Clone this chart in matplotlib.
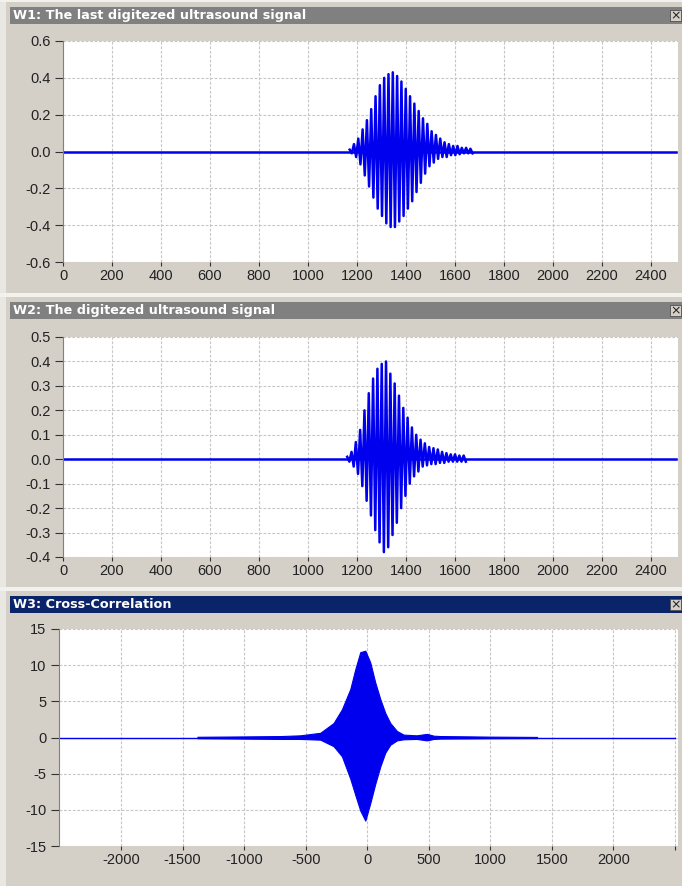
import matplotlib.pyplot as plt
from matplotlib.patches import Rectangle

plt.rcParams['font.family'] = ['Liberation Sans', 'DejaVu Sans']
plt.rcParams['axes.unicode_minus'] = False

W, H = 682, 886
BG = '#d4d0c8'
BLUE = '#0000ee'

# --- data ------------------------------------------------------------
signal_len = 2500

# W1 burst, one peak value per half cycle (positive / negative peaks)
w1_start = 1170
w1_period = 17.6
w1_pos = [0.01, 0.04, 0.07, 0.12, 0.17, 0.23, 0.30, 0.36, 0.40, 0.42,
          0.43, 0.41, 0.38, 0.34, 0.30, 0.26, 0.22, 0.18, 0.15, 0.11,
          0.09, 0.07, 0.05, 0.04, 0.03, 0.03, 0.02, 0.02, 0.015]
w1_neg = [-0.01, -0.03, -0.07, -0.13, -0.19, -0.25, -0.31, -0.35, -0.39, -0.41,
          -0.41, -0.38, -0.35, -0.31, -0.27, -0.22, -0.17, -0.12, -0.08, -0.06,
          -0.04, -0.03, -0.03, -0.02, -0.02, -0.015, -0.01, -0.01, -0.01]

# W2 burst
w2_start = 1160
w2_period = 17.6
w2_pos = [0.01, 0.03, 0.07, 0.12, 0.20, 0.27, 0.33, 0.37, 0.39, 0.40,
          0.35, 0.31, 0.26, 0.21, 0.17, 0.13, 0.10, 0.08, 0.065, 0.05,
          0.045, 0.04, 0.03, 0.025, 0.02, 0.02, 0.015, 0.015]
w2_neg = [-0.01, -0.03, -0.06, -0.11, -0.17, -0.23, -0.29, -0.34, -0.38, -0.36,
          -0.31, -0.26, -0.20, -0.15, -0.10, -0.07, -0.05, -0.03, -0.025, -0.02,
          -0.02, -0.015, -0.015, -0.01, -0.01, -0.01, -0.01, -0.01]

# W3 cross-correlation envelope
w3_lag = [-1380, -1000, -700, -545, -382, -274, -206, -138, -98, -57, -16,
          24, 65, 106, 146, 187, 241, 295, 400, 485, 540, 593, 862, 1000, 1380]
w3_upper = [0.1, 0.15, 0.2, 0.3, 0.65, 2.0, 3.9, 6.7, 9.4, 11.8, 12.0,
            10.4, 7.6, 5.3, 3.4, 2.0, 0.9, 0.4, 0.3, 0.5, 0.25, 0.2, 0.15, 0.12, 0.08]
w3_lower = [-0.1, -0.15, -0.2, -0.2, -0.3, -1.2, -2.6, -5.7, -7.9, -10.1, -11.5,
            -9.1, -6.4, -4.0, -2.1, -1.0, -0.4, -0.25, -0.2, -0.4, -0.2, -0.15, -0.12, -0.1, -0.08]

w1_ticks = list(range(0, 2401, 200))
w3_ticks = list(range(-2000, 2001, 500))


def rect(l, t, r, b):
    return [l / W, 1 - b / H, (r - l) / W, (b - t) / H]


def burst(start, period, pos, neg):
    xs, ys = [], []
    for i in range(min(len(pos), len(neg))):
        xs += [start + i * period, start + (i + 0.5) * period]
        ys += [pos[i], neg[i]]
    return xs, ys


def style_axes(ax):
    ax.set_facecolor('white')
    for s in ['top', 'right', 'bottom']:
        ax.spines[s].set_visible(False)
    ax.spines['left'].set_color('#808080')
    ax.grid(True, color='#c6c6c6', linestyle=(0, (2.5, 1.5)), linewidth=0.8)
    ax.set_axisbelow(True)
    ax.tick_params(axis='y', length=6, pad=3, color='#333333', labelsize=10.5, labelcolor='#222222')
    ax.tick_params(axis='x', length=3, pad=2, color='#333333', labelsize=10.5, labelcolor='#222222')


def title_bar(top, text, color):
    fig.add_artist(Rectangle((0, 1 - (top - 5) / H), 1, 4 / H, transform=fig.transFigure,
                             color='#f2f1ed', lw=0))
    fig.add_artist(Rectangle((10 / W, 1 - (top + 17) / H), (W - 10) / W, 17 / H,
                             transform=fig.transFigure, color=color, lw=0))
    fig.text(13 / W, 1 - (top + 8.5) / H, text, color='white', fontweight='bold',
             fontsize=9.2, va='center', ha='left', family='DejaVu Sans')
    fig.add_artist(Rectangle((670 / W, 1 - (top + 14) / H), 11 / W, 11 / H,
                             transform=fig.transFigure, facecolor=BG, edgecolor='#505050', lw=0.6))
    fig.text(675.5 / W, 1 - (top + 8.5) / H, '×', color='#202020', fontsize=9,
             va='center', ha='center', family='DejaVu Sans')


fig = plt.figure(figsize=(W / 100, H / 100), dpi=100, facecolor=BG)
fig.add_artist(Rectangle((0, 0), 6 / W, 1, transform=fig.transFigure, color='#e9e7e2', lw=0))

title_bar(7, 'W1: The last digitezed ultrasound signal', '#808080')
title_bar(302, 'W2: The digitezed ultrasound signal', '#808080')
title_bar(596, 'W3: Cross-Correlation', '#0a246a')

# W1
ax1 = fig.add_axes(rect(63, 41, 678, 262))
style_axes(ax1)
ax1.plot([0, signal_len], [0, 0], color=BLUE, lw=1.8)
bx, by = burst(w1_start, w1_period, w1_pos, w1_neg)
ax1.plot(bx, by, color=BLUE, lw=1.8)
ax1.set_xlim(0, 2510)
ax1.set_ylim(-0.6, 0.6)
ax1.set_xticks(w1_ticks)
ax1.set_xticklabels([str(t) for t in w1_ticks])
y1 = [-0.6, -0.4, -0.2, 0.0, 0.2, 0.4, 0.6]
ax1.set_yticks(y1)
ax1.set_yticklabels(['%.1f' % v for v in y1])

# W2
ax2 = fig.add_axes(rect(63, 337, 678, 557))
style_axes(ax2)
ax2.plot([0, signal_len], [0, 0], color=BLUE, lw=1.8)
bx, by = burst(w2_start, w2_period, w2_pos, w2_neg)
ax2.plot(bx, by, color=BLUE, lw=1.8)
ax2.set_xlim(0, 2510)
ax2.set_ylim(-0.4, 0.5)
ax2.set_xticks(w1_ticks)
ax2.set_xticklabels([str(t) for t in w1_ticks])
y2 = [-0.4, -0.3, -0.2, -0.1, 0.0, 0.1, 0.2, 0.3, 0.4, 0.5]
ax2.set_yticks(y2)
ax2.set_yticklabels(['%.1f' % v for v in y2])

# W3
ax3 = fig.add_axes(rect(59, 629, 678, 846))
style_axes(ax3)
ax3.plot([-signal_len, signal_len], [0, 0], color=BLUE, lw=1.0)
ax3.fill_between(w3_lag, w3_lower, w3_upper, color=BLUE, lw=0.8)
ax3.set_xlim(-2505, 2525)
ax3.set_ylim(-15, 15)
ax3.set_xticks(w3_ticks + [2500])
ax3.set_xticklabels([str(t) for t in w3_ticks] + [''])
y3 = [-15, -10, -5, 0, 5, 10, 15]
ax3.set_yticks(y3)
ax3.set_yticklabels([str(v) for v in y3])

fig.savefig('out.png', dpi=100, facecolor=BG)
